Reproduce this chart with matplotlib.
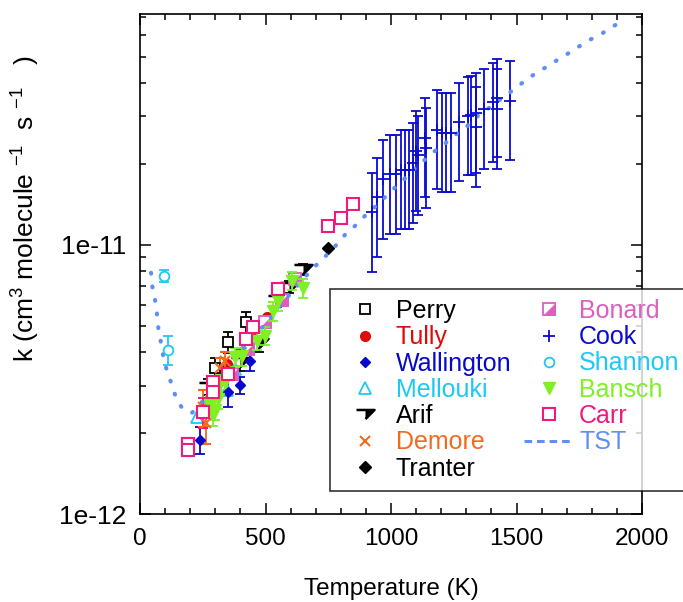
import numpy as np
import matplotlib
matplotlib.use('Agg')
from matplotlib import pyplot as plt
from matplotlib.lines import Line2D
from matplotlib.ticker import FixedLocator, LogLocator, MultipleLocator, FuncFormatter, NullFormatter

plt.rcParams['font.family'] = ['Liberation Sans', 'DejaVu Sans']
plt.rcParams['mathtext.fontset'] = 'custom'
plt.rcParams['mathtext.rm'] = 'Liberation Sans'
plt.rcParams['mathtext.it'] = 'Liberation Sans'
plt.rcParams['mathtext.default'] = 'regular'

# rate constants, k in units of 1e-12 cm^3 molecule^-1 s^-1
perry_T = [299, 349, 421]
perry_k = [3.49, 4.35, 5.15]
perry_err = [0.31, 0.38, 0.49]

tully_T = [295, 332, 345, 400, 445, 505]
tully_k = [3.0, 3.36, 3.6, 4.0, 4.6, 5.4]

wall_T = [239, 352, 398, 438]
wall_k = [1.89, 2.84, 3.01, 3.70]
wall_err = [0.22, 0.35, 0.23, 0.29]

mell_T = [226, 272, 345, 378]
mell_k = [2.29, 2.64, 2.88, 3.47]

arif_T = [272, 319, 398, 475, 545, 593, 651]
arif_k = [2.96, 3.36, 3.66, 4.30, 6.23, 6.99, 8.12]
arif_err = [0.2, 0.2, 0.25, 0.3, 0.35, 0.35, 0.4]

demore_T = [250, 263, 319, 339]
demore_k = [2.5, 2.17, 3.5, 3.7]
demore_err = [0.4, 0.35, 0.3, 0.3]

tranter_T = [750]
tranter_k = [9.72]

bonard_T = [299, 365, 432, 498, 564, 618]
bonard_k = [2.88, 3.32, 4.11, 5.15, 6.21, 7.46]

cook_T = [923, 946, 967, 996, 1019, 1040, 1056, 1073, 1089, 1100, 1109, 1136, 1140,
          1183, 1202, 1219, 1238, 1272, 1308, 1319, 1337, 1340, 1372, 1408, 1421, 1424, 1474]
cook_k = [13.2, 15.0, 17.5, 18.3, 18.3, 19.0, 19.0, 19.0, 20.2, 22.4, 21.5, 25.0, 22.9,
          26.8, 26.1, 26.1, 26.1, 28.6, 30.1, 30.3, 30.9, 27.4, 32.0, 33.9, 35.1, 32.0, 34.3]
cook_err = [5.3, 6.0, 7.0, 7.3, 7.3, 7.6, 7.6, 7.6, 8.1, 9.0, 8.6, 10.0, 9.2,
            10.7, 10.4, 10.4, 10.4, 11.4, 12.0, 12.1, 12.4, 11.0, 12.8, 13.6, 14.0, 12.8, 13.7]

shannon_T = [94, 112]
shannon_k = [7.68, 4.08]
shannon_err = [0.4, 0.5]

bansch_T = [280, 292, 299, 312, 319, 339, 378, 405, 465, 498, 529, 551, 604, 651]
bansch_k = [2.55, 2.33, 2.43, 2.68, 3.05, 3.09, 3.83, 3.85, 4.41, 4.60, 5.67, 6.20, 7.36, 6.92]
bansch_err = [0.2, 0.2, 0.2, 0.22, 0.25, 0.25, 0.3, 0.3, 0.35, 0.37, 0.45, 0.5, 0.55, 0.55]

carr_T = [193, 193, 250, 292, 292, 349, 422, 449, 549, 750, 800, 850]
carr_k = [1.82, 1.73, 2.39, 3.08, 2.84, 3.30, 4.45, 4.94, 6.83, 11.7, 12.6, 14.2]
carr_err = [0.09, 0.09, 0.3, np.nan, np.nan, np.nan, np.nan, np.nan, np.nan, np.nan, np.nan, np.nan]

tst_T = [44, 47, 56, 64, 69, 73, 82, 97, 110, 126, 142, 166, 206, 246, 300, 400, 500, 600,
         688, 733, 777, 817, 863, 906, 951, 995, 1039, 1084, 1127, 1172, 1216, 1261, 1305,
         1349, 1394, 1438, 1483, 1527, 1572, 1618, 1663, 1706, 1750, 1796, 1839, 1883, 1928]
tst_k = [7.87, 7.15, 6.53, 5.94, 5.38, 4.89, 4.41, 3.65, 3.36, 3.03, 2.73, 2.49, 2.37, 2.60,
         3.0, 3.98, 5.1, 6.6, 8.17, 8.95, 9.86, 10.9, 11.9, 13.1, 14.2, 15.7, 17.0, 18.8,
         20.4, 22.2, 23.8, 25.8, 27.7, 30.3, 32.4, 34.8, 37.4, 40.2, 43.1, 45.7, 48.6, 51.4,
         54.6, 58.0, 60.8, 64.6, 68.5]

C_TULLY = '#e00a0a'
C_WALL = '#0808c8'
C_CYAN = '#1ec8f5'
C_ORANGE = '#f26b1d'
C_BONARD = '#dc5ec0'
C_COOK = '#0a0ad2'
C_BANSCH = '#7ef024'
C_CARR = '#f0197c'
C_TST = '#5f8ef5'


def e12(v):
    return np.asarray(v, dtype=float) * 1e-12


fig = plt.figure(figsize=(6.83, 6.02), dpi=100)
ax = fig.add_axes([140 / 683, 88 / 602, 502 / 683, 500 / 602])

eb = dict(capsize=3.5, elinewidth=1.3, capthick=1.3, linestyle='none')

ax.errorbar(perry_T, e12(perry_k), yerr=e12(perry_err), fmt='s', color='black',
            mfc='white', mec='black', ms=7, mew=1.3, **eb)
ax.plot(tully_T, e12(tully_k), 'o', color=C_TULLY, ms=7, linestyle='none')
ax.errorbar(wall_T, e12(wall_k), yerr=e12(wall_err), fmt='D', color=C_WALL, ms=5.5, **eb)
ax.plot(mell_T, e12(mell_k), '^', mfc='white', mec=C_CYAN, ms=8, mew=1.3, linestyle='none')

# Arif: flat down-triangle, right half filled
tri = [(-1, 0.5), (1, 0.5), (0, -0.5)]
tri_half = [(0, 0.5), (1, 0.5), (0, -0.5)]
ax.errorbar(arif_T, e12(arif_k), yerr=e12(arif_err), fmt='none', ecolor='black', **eb)
arif_a, = ax.plot(arif_T, e12(arif_k), marker=tri, ms=13, mfc='white', mec='black', mew=1.8,
                  linestyle='none')
arif_b, = ax.plot(arif_T, e12(arif_k), marker=tri_half, ms=13, mfc='black', mec='black', mew=1,
                  linestyle='none')

ax.errorbar(demore_T, e12(demore_k), yerr=e12(demore_err), fmt='x', color=C_ORANGE, ms=7,
            mew=1.5, **eb)
ax.plot(tranter_T, e12(tranter_k), 'D', color='black', ms=6, linestyle='none')

# Bonard: square with the lower-right triangle filled
bon_tri = [(-1, -1), (1, -1), (1, 1)]
bon_a, = ax.plot(bonard_T, e12(bonard_k), 's', ms=9, mfc='white', mec=C_BONARD, mew=1.3,
                 linestyle='none')
bon_b, = ax.plot(bonard_T, e12(bonard_k), marker=bon_tri, ms=9, mfc=C_BONARD, mec=C_BONARD,
                 mew=0.5, linestyle='none')

ax.errorbar(cook_T, e12(cook_k), yerr=e12(cook_err), fmt='+', color=C_COOK, ms=8, mew=1.3, **eb)
ax.errorbar(shannon_T, e12(shannon_k), yerr=e12(shannon_err), fmt='o', color=C_CYAN,
            mfc='white', ms=7, mew=1.3, **eb)
ax.errorbar(bansch_T, e12(bansch_k), yerr=e12(bansch_err), fmt='v', color=C_BANSCH, ms=9, **eb)
ax.errorbar(carr_T, e12(carr_k), yerr=e12(carr_err), fmt='s', color=C_CARR, mfc='white',
            mec=C_CARR, ms=8, mew=1.5, **eb)
ax.plot(tst_T, e12(tst_k), color=C_TST, lw=3.0, linestyle=(0, (0.2, 3.1)),
        dash_capstyle='round', solid_capstyle='round')

ax.set_xlim(0, 2000)
ax.set_yscale('log')
ax.set_ylim(1e-12, 7.2e-11)

ax.xaxis.set_major_locator(MultipleLocator(500))
ax.xaxis.set_minor_locator(MultipleLocator(100))
ax.yaxis.set_major_locator(FixedLocator([1e-12, 1e-11]))
ax.yaxis.set_minor_locator(LogLocator(base=10, subs=np.arange(2, 10)))
ax.yaxis.set_major_formatter(FuncFormatter(lambda v, p: '1e%d' % round(np.log10(v))))
ax.yaxis.set_minor_formatter(NullFormatter())

ax.tick_params(which='both', direction='in', top=True, right=True, width=1.1)
ax.tick_params(which='major', length=8, pad=10)
ax.tick_params(which='minor', length=4)
ax.tick_params(axis='x', labelsize=17.5)
ax.tick_params(axis='y', labelsize=19)
for s in ax.spines.values():
    s.set_linewidth(1.2)

ax.set_xlabel('Temperature (K)', fontsize=17.5, labelpad=20)
ax.set_ylabel(r'k (cm$^{3}$ molecule $^{-1}$  s $^{-1}$   )', fontsize=19)
ax.yaxis.set_label_coords(-0.195, 0.61)

tst_handle = Line2D([], [], color=C_TST, lw=2.2, linestyle=(0, (2.5, 1.6)))
handles = [
    Line2D([], [], marker='s', color='black', mfc='white', ms=7, mew=1.3, linestyle='none'),
    Line2D([], [], marker='o', color=C_TULLY, ms=7, linestyle='none'),
    Line2D([], [], marker='D', color=C_WALL, ms=5.5, linestyle='none'),
    Line2D([], [], marker='^', mfc='white', mec=C_CYAN, ms=8, mew=1.3, linestyle='none'),
    (arif_a, arif_b),
    Line2D([], [], marker='x', color=C_ORANGE, ms=7, mew=1.5, linestyle='none'),
    Line2D([], [], marker='D', color='black', ms=6, linestyle='none'),
    (bon_a, bon_b),
    Line2D([], [], marker='+', color=C_COOK, ms=8, mew=1.3, linestyle='none'),
    Line2D([], [], marker='o', color=C_CYAN, mfc='white', ms=7, mew=1.3, linestyle='none'),
    Line2D([], [], marker='v', color=C_BANSCH, ms=9, linestyle='none'),
    Line2D([], [], marker='s', color=C_CARR, mfc='white', ms=8, mew=1.5, linestyle='none'),
    tst_handle,
]
labels = ['Perry', 'Tully', 'Wallington', 'Mellouki', 'Arif', 'Demore', 'Tranter',
          'Bonard', 'Cook', 'Shannon', 'Bansch', 'Carr', 'TST']
text_colors = ['black', C_TULLY, C_WALL, C_CYAN, 'black', C_ORANGE, 'black',
               C_BONARD, C_COOK, C_CYAN, C_BANSCH, C_CARR, C_TST]

leg = fig.legend(handles, labels, ncol=2, loc='upper left',
                 bbox_to_anchor=(330 / 683, 1 - 289 / 602), bbox_transform=fig.transFigure,
                 fontsize=18, frameon=True, fancybox=False, borderpad=0.4, borderaxespad=0,
                 handlelength=2.0, handletextpad=0.22, columnspacing=0.5, labelspacing=0.09)
leg.get_frame().set_edgecolor('black')
leg.get_frame().set_linewidth(1.2)
for t, c in zip(leg.get_texts(), text_colors):
    t.set_color(c)

fig.savefig('out.png', dpi=100)
